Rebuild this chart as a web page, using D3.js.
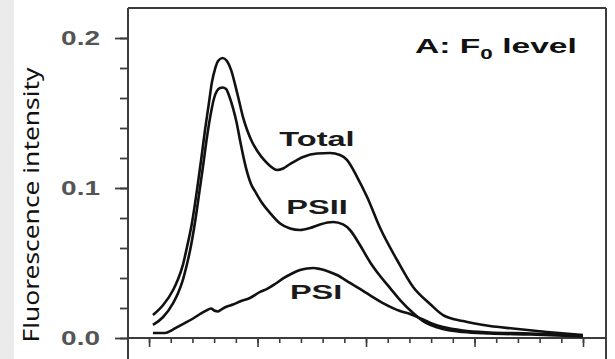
<!DOCTYPE html>
<html><head><meta charset="utf-8">
<script src="https://cdn.jsdelivr.net/npm/d3@7/dist/d3.min.js"></script>
<style>html,body{margin:0;padding:0;background:#fff;overflow:hidden}</style>
</head><body>
<svg id="c" width="615" height="359"></svg>
<script>
// ---- data (wavelength nm, fluorescence intensity) ----
const totalWl  = [651.8,656.5,661.1,663.4,665.7,667.5,669.7,672.1,674.0,675.8,677.6,679.0,680.4,681.8,683.9,685.9,687.8,689.6,691.5,693.3,695.2,697.5,700.2,703.0,705.8,709.0,711.8,715.0,721.0,727.4,733.4,738.0,741.2,745.9,750.5,756.5,764.3,771.7,779.5,785.5,794.7,807.1,817.7,833.4,850.0];
const totalVal = [0.0153,0.0220,0.0320,0.0393,0.0493,0.0607,0.0760,0.0987,0.1187,0.1387,0.1567,0.1707,0.1793,0.1847,0.1867,0.1847,0.1787,0.1693,0.1580,0.1473,0.1387,0.1307,0.1240,0.1187,0.1147,0.1120,0.1130,0.1160,0.1207,0.1230,0.1233,0.1220,0.1187,0.1073,0.0940,0.0733,0.0520,0.0340,0.0227,0.0153,0.0113,0.0080,0.0063,0.0040,0.0020];

const psiiWl  = [651.8,656.5,661.1,663.4,665.7,667.5,669.4,671.2,673.0,674.9,676.7,678.6,680.0,681.3,682.7,683.9,685.5,687.1,688.7,690.3,691.9,694.7,697.0,699.3,702.1,705.8,710.4,715.0,719.6,724.2,728.8,734.8,739.4,742.6,747.2,751.8,756.5,761.1,765.7,771.7,776.3,785.5,794.7,807.1,825.6,850.0];
const psiiVal = [0.0087,0.0140,0.0233,0.0300,0.0393,0.0493,0.0620,0.0773,0.0953,0.1147,0.1340,0.1507,0.1600,0.1647,0.1667,0.1670,0.1660,0.1607,0.1533,0.1440,0.1320,0.1133,0.1027,0.0967,0.0900,0.0833,0.0763,0.0730,0.0720,0.0733,0.0757,0.0773,0.0757,0.0720,0.0620,0.0507,0.0413,0.0333,0.0253,0.0167,0.0113,0.0060,0.0040,0.0030,0.0023,0.0010];

const psiWl  = [651.8,657.4,660.6,664.3,667.5,670.3,673.5,676.3,678.6,680.0,681.8,683.6,685.9,688.7,691.9,696.5,701.2,704.4,708.1,711.8,715.9,719.6,722.8,725.6,728.8,732.0,736.6,742.6,747.2,750.5,757.8,765.7,770.3,776.3,780.9,785.5,794.7,807.1,825.6,850.0];
const psiVal = [0.0033,0.0033,0.0053,0.0083,0.0107,0.0130,0.0160,0.0183,0.0197,0.0183,0.0177,0.0193,0.0210,0.0223,0.0243,0.0267,0.0307,0.0327,0.0360,0.0397,0.0430,0.0453,0.0463,0.0467,0.0460,0.0447,0.0420,0.0367,0.0327,0.0297,0.0233,0.0180,0.0160,0.0123,0.0093,0.0073,0.0050,0.0037,0.0030,0.0017];

const yTickValues = [0, 0.1, 0.2];
const yTickLabels = ["0.0", "0.1", "0.2"];
const yMinorStep = 0.02;
const xMajorTicks = [650, 700, 750, 800, 850];
const xMinorStep = 10;

const seriesNames = ["Total", "PSII", "PSI"];
const seriesLabelPos = [[727.4, 0.128], [727.4, 0.0827], [727.0, 0.026]];
const panelTitle = {main: "A: F", sub: "0", tail: " level", wl: 772.6, val: 0.190};
const yAxisTitle = "Fluorescence intensity";

// ---- drawing ----
const W = 615, H = 359;
const svg = d3.select("#c");
svg.append("rect").attr("width", W).attr("height", H).attr("fill", "#ffffff");
svg.append("rect").attr("x", 0).attr("y", 0).attr("width", 14).attr("height", H).attr("fill", "#ebebeb");

const L = 128, R = 606, T = 8, B = 338;
const x = d3.scaleLinear().domain([640.3, 860.6]).range([L, R]);
const y = d3.scaleLinear().domain([0, 0.22]).range([B, T]);

const axisColor = "#3c3c3c";

const yMinor = d3.range(0, 0.2 + 1e-9, yMinorStep);
svg.append("g").attr("transform", `translate(${L},0)`)
  .call(d3.axisLeft(y).tickValues(yMinor).tickSize(8).tickFormat(""))
  .call(g => { g.select(".domain").remove(); g.selectAll("line").attr("stroke", axisColor).attr("stroke-width", 1.8); });
svg.append("g").attr("transform", `translate(${L},0)`)
  .call(d3.axisLeft(y).tickValues(yTickValues).tickSize(13).tickFormat(""))
  .call(g => { g.select(".domain").remove(); g.selectAll("line").attr("stroke", axisColor).attr("stroke-width", 1.8); });

const xMinor = d3.range(650, 850 + 1e-9, xMinorStep);
svg.append("g").attr("transform", `translate(0,${B})`)
  .call(d3.axisBottom(x).tickValues(xMinor).tickSize(5).tickFormat(""))
  .call(g => { g.select(".domain").remove(); g.selectAll("line").attr("stroke", axisColor).attr("stroke-width", 1.6); });
svg.append("g").attr("transform", `translate(0,${B})`)
  .call(d3.axisBottom(x).tickValues(xMajorTicks).tickSize(9).tickFormat(""))
  .call(g => { g.select(".domain").remove(); g.selectAll("line").attr("stroke", axisColor).attr("stroke-width", 1.6); });

const frame = svg.append("g").attr("stroke", axisColor).attr("stroke-width", 2).attr("fill", "none");
frame.append("line").attr("x1", L).attr("x2", L).attr("y1", T).attr("y2", H);
frame.append("line").attr("x1", L).attr("x2", R).attr("y1", T).attr("y2", T);
frame.append("line").attr("x1", R).attr("x2", R).attr("y1", T).attr("y2", H);
frame.append("line").attr("x1", L).attr("x2", R).attr("y1", B).attr("y2", B);

yTickValues.forEach((v, i) => {
  svg.append("g").attr("transform", `translate(100,${y(v) + 7}) scale(1.4,1)`)
    .append("text").attr("text-anchor", "end")
    .attr("font-family", "Liberation Sans, Arial, sans-serif").attr("font-weight", "bold")
    .attr("font-size", 20).attr("fill", "#555").text(yTickLabels[i]);
});

svg.append("text")
  .attr("transform", `translate(39,${205}) rotate(-90)`)
  .attr("text-anchor", "middle")
  .attr("font-family", "Noto Sans, Open Sans, sans-serif")
  .attr("font-size", 22).attr("fill", "#111")
  .attr("textLength", 275).attr("lengthAdjust", "spacingAndGlyphs")
  .text(yAxisTitle);

const line = d3.line().x(d => x(d[0])).y(d => y(d[1])).curve(d3.curveMonotoneX);
const series = [
  d3.zip(totalWl, totalVal),
  d3.zip(psiiWl, psiiVal),
  d3.zip(psiWl, psiVal)
];
svg.append("g").selectAll("path").data(series).join("path")
  .attr("d", line).attr("fill", "none").attr("stroke", "#111")
  .attr("stroke-width", 2.6).attr("stroke-linejoin", "round");

seriesNames.forEach((n, i) => {
  svg.append("g").attr("transform", `translate(${x(seriesLabelPos[i][0])},${y(seriesLabelPos[i][1])}) scale(1.55,1)`)
    .append("text").attr("text-anchor", "middle")
    .attr("font-family", "Liberation Sans, Arial, sans-serif").attr("font-weight", "bold")
    .attr("font-size", 21).attr("fill", "#1a1a1a").text(n);
});

const tt = svg.append("g").attr("transform", `translate(${x(panelTitle.wl)},${y(panelTitle.val)}) scale(1.6,1)`)
  .append("text").attr("font-family", "Liberation Sans, Arial, sans-serif").attr("font-weight", "bold")
  .attr("font-size", 21).attr("fill", "#111");
tt.append("tspan").text(panelTitle.main);
tt.append("tspan").attr("font-size", 14).attr("dy", 6).text(panelTitle.sub);
tt.append("tspan").attr("dy", -6).text(panelTitle.tail);
</script>
</body></html>
